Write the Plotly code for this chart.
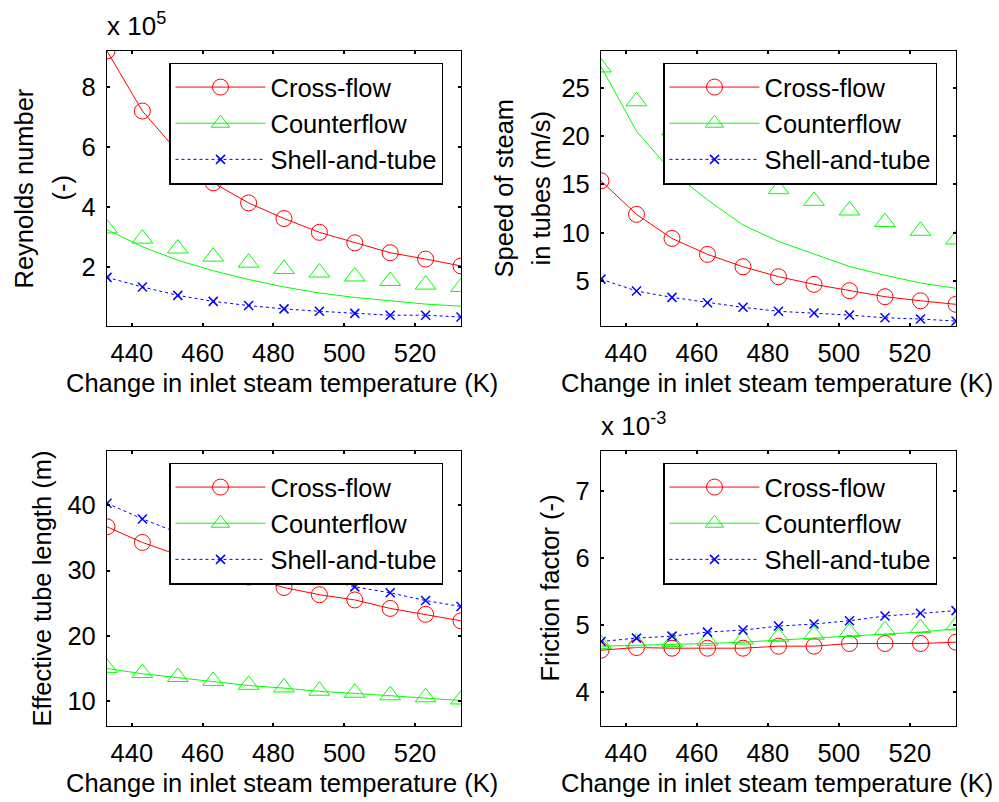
import plotly.graph_objects as go

# ---------------- data ----------------
temps = [433, 443, 453, 463, 473, 483, 493, 503, 513, 523, 533]
x_tick_vals = [440, 460, 480, 500, 520]
series_names = ["Cross-flow", "Counterflow", "Shell-and-tube"]

# Reynolds number (x 1e5)
re_cross = [9.21, 7.21, 5.85, 4.82, 4.15, 3.63, 3.17, 2.82, 2.49, 2.28, 2.05]
re_counter_markers = [3.30, 2.96, 2.63, 2.36, 2.16, 1.95, 1.83, 1.70, 1.55, 1.43, 1.35]
re_counter_line = [3.26, 2.69, 2.24, 1.89, 1.60, 1.35, 1.15, 1.00, 0.89, 0.78, 0.71]
re_shell = [1.67, 1.35, 1.07, 0.87, 0.73, 0.62, 0.54, 0.47, 0.41, 0.41, 0.35]

# Speed of steam in tubes (m/s)
sp_cross = [15.37, 11.9, 9.41, 7.76, 6.48, 5.45, 4.66, 4.0, 3.38, 2.96, 2.59]
sp_counter_markers = [27.1, 23.6, 20.6, 18.2, 16.2, 14.5, 13.3, 12.3, 11.1, 10.2, 9.3]
sp_counter_line = [27.2, 20.5, 16.3, 13.4, 10.8, 9.1, 7.8, 6.5, 5.6, 4.8, 4.25]
sp_shell = [5.2, 3.97, 3.31, 2.76, 2.28, 1.87, 1.69, 1.48, 1.2, 1.07, 0.86]

# Effective tube length (m)
ln_cross = [36.7, 34.3, 32.4, 30.7, 29.0, 27.4, 26.3, 25.5, 24.2, 23.3, 22.3]
ln_counter_markers = [15.1, 14.3, 13.7, 13.1, 12.5, 12.1, 11.6, 11.3, 10.9, 10.6, 10.26]
ln_counter_line = [15.0, 14.2, 13.6, 13.0, 12.4, 12.0, 11.5, 11.2, 10.8, 10.5, 10.1]
ln_shell = [40.3, 37.9, 35.8, 33.8, 32.0, 30.4, 28.9, 27.5, 26.6, 25.4, 24.5]

# Friction factor (x 1e-3)
fr_cross = [4.63, 4.67, 4.66, 4.66, 4.66, 4.69, 4.69, 4.73, 4.73, 4.73, 4.75]
fr_counter_markers = [4.72, 4.74, 4.75, 4.77, 4.79, 4.83, 4.86, 4.90, 4.93, 4.96, 5.00]
fr_counter_line = [4.69, 4.70, 4.71, 4.73, 4.75, 4.78, 4.81, 4.84, 4.87, 4.90, 4.95]
fr_shell = [4.76, 4.81, 4.84, 4.90, 4.93, 4.99, 5.02, 5.07, 5.14, 5.18, 5.22]

x_title = "Change in inlet steam temperature (K)"

# ---------------- layout helpers ----------------
W, H = 999, 802
FONT = "Arial, Liberation Sans, sans-serif"
FS = 25.5
RED, GREEN, BLUE = "#FF0000", "#00FF00", "#0000FF"


def fx(p):
    return p / W


def fy(p):
    return 1 - p / H


panels = [
    dict(xd=(107, 461), yd=(51, 326), yr=[0.05, 9.21], yt=[2, 4, 6, 8],
         data=(re_cross, re_counter_line, re_counter_markers, re_shell),
         ytitles=[("Reynolds number", 23), ("(-)", 61)], expo="5"),
    dict(xd=(601, 956), yd=(51, 326), yr=[0.35, 28.8], yt=[5, 10, 15, 20, 25],
         data=(sp_cross, sp_counter_line, sp_counter_markers, sp_shell),
         ytitles=[("Speed of steam", 503), ("in tubes (m/s)", 540)], expo=None),
    dict(xd=(107, 461), yd=(451, 726), yr=[6.2, 48.3], yt=[10, 20, 30, 40],
         data=(ln_cross, ln_counter_line, ln_counter_markers, ln_shell),
         ytitles=[("Effective tube length (m)", 41)], expo=None),
    dict(xd=(601, 956), yd=(451, 726), yr=[3.5, 7.6], yt=[4, 5, 6, 7],
         data=(fr_cross, fr_counter_line, fr_counter_markers, fr_shell),
         ytitles=[("Friction factor (-)", 549)], expo="-3"),
]

fig = go.Figure()
layout = dict(
    width=W, height=H,
    margin=dict(l=0, r=0, t=0, b=0),
    paper_bgcolor="white", plot_bgcolor="white",
    font=dict(family=FONT, size=FS, color="black"),
    showlegend=True,
)
annotations = []

for i, p in enumerate(panels, start=1):
    xa = "x" if i == 1 else f"x{i}"
    ya = "y" if i == 1 else f"y{i}"
    lg = "legend" if i == 1 else f"legend{i}"
    cross, cline, cmk, shell = p["data"]

    fig.add_trace(go.Scatter(
        x=temps, y=cross, mode="lines+markers", name=series_names[0],
        xaxis=xa, yaxis=ya, legend=lg, legendgroup=f"c{i}",
        line=dict(color=RED, width=1),
        marker=dict(symbol="circle-open", size=16, color=RED, line=dict(width=1, color=RED)),
    ))
    fig.add_trace(go.Scatter(
        x=temps, y=cline, mode="lines", showlegend=False,
        xaxis=xa, yaxis=ya, legendgroup=f"g{i}",
        line=dict(color=GREEN, width=1),
    ))
    fig.add_trace(go.Scatter(
        x=temps, y=cmk, mode="markers", showlegend=False,
        xaxis=xa, yaxis=ya, legendgroup=f"g{i}",
        marker=dict(symbol="triangle-up-open", size=18, color=GREEN, line=dict(width=1, color=GREEN)),
    ))
    fig.add_trace(go.Scatter(
        x=[None], y=[None], mode="lines+markers", name=series_names[1],
        xaxis=xa, yaxis=ya, legend=lg, legendgroup=f"g{i}",
        line=dict(color=GREEN, width=1),
        marker=dict(symbol="triangle-up-open", size=18, color=GREEN, line=dict(width=1, color=GREEN)),
    ))
    fig.add_trace(go.Scatter(
        x=temps, y=shell, mode="lines+markers", name=series_names[2],
        xaxis=xa, yaxis=ya, legend=lg, legendgroup=f"s{i}",
        line=dict(color=BLUE, width=1, dash="dot"),
        marker=dict(symbol="x-thin", size=9, color=BLUE, line=dict(width=1.5, color=BLUE)),
    ))

    axis_common = dict(
        showline=True, linecolor="black", linewidth=1.2, mirror="allticks",
        ticks="inside", ticklen=3, tickwidth=1.5, tickcolor="black",
        showgrid=False, zeroline=False, automargin=False,
        tickfont=dict(family=FONT, size=FS, color="black"),
    )
    layout["xaxis" if i == 1 else f"xaxis{i}"] = dict(
        axis_common, domain=[fx(p["xd"][0]), fx(p["xd"][1])], anchor=ya,
        range=[temps[0], temps[-1]], tickvals=x_tick_vals, ticklabelstandoff=4,
    )
    layout["yaxis" if i == 1 else f"yaxis{i}"] = dict(
        axis_common, domain=[fy(p["yd"][1]), fy(p["yd"][0])], anchor=xa,
        range=p["yr"], tickvals=p["yt"], ticklabelstandoff=5,
    )
    layout[lg] = dict(
        x=fx(p["xd"][0] + 62), y=fy(p["yd"][0] + 11.5), xanchor="left", yanchor="top",
        xref="paper", yref="paper",
        bgcolor="white", bordercolor="black", borderwidth=1.5,
        font=dict(family=FONT, size=FS, color="black"),
        itemwidth=90, tracegroupgap=7, traceorder="normal",
    )

    # x title
    xc = (p["xd"][0] + p["xd"][1]) / 2
    annotations.append(dict(
        text=x_title, x=fx(xc - 2), y=fy(p["yd"][1] + 57), xref="paper", yref="paper",
        xanchor="center", yanchor="middle", showarrow=False,
        font=dict(family=FONT, size=FS, color="black"),
    ))
    # y titles
    yc = (p["yd"][0] + p["yd"][1]) / 2
    for txt, xpos in p["ytitles"]:
        annotations.append(dict(
            text=txt, x=fx(xpos), y=fy(yc), xref="paper", yref="paper",
            xanchor="center", yanchor="middle", textangle=-90, showarrow=False,
            font=dict(family=FONT, size=FS, color="black"),
        ))
    if p["expo"]:
        annotations.append(dict(
            text="x 10<sup>" + p["expo"] + "</sup>",
            x=fx(p["xd"][0] - 2), y=fy(p["yd"][0] - 8),
            xref="paper", yref="paper", xanchor="left", yanchor="bottom",
            showarrow=False, font=dict(family=FONT, size=26, color="black"),
        ))

layout["annotations"] = annotations
fig.update_layout(**layout)
fig.write_html("out.html")
